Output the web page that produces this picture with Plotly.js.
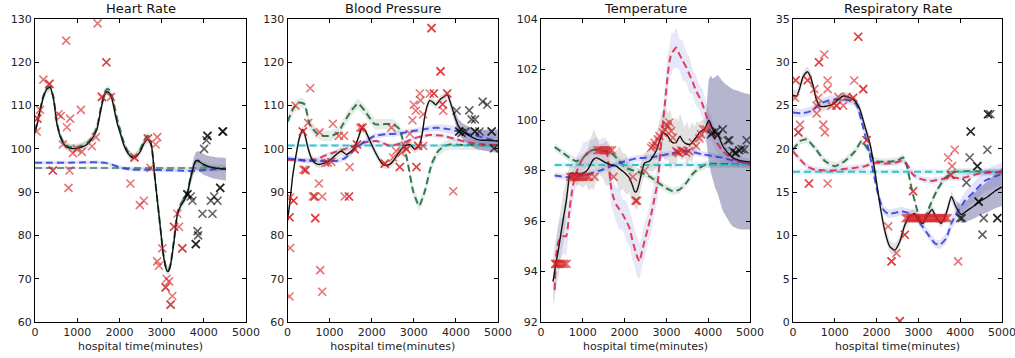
<!DOCTYPE html>
<html><head><meta charset="utf-8">
<script src="https://cdn.plot.ly/plotly-3.0.1.min.js"></script>
<style>html,body{margin:0;padding:0;background:#fff}#chart{width:1015px;height:358px}</style>
</head><body><div id="chart"></div>
<script>
// ---------- DATA ----------
const panelTitles = ['Heart Rate', 'Blood Pressure', 'Temperature', 'Respiratory Rate'];
const xTickVals = [0, 1000, 2000, 3000, 4000, 5000];
const xLabel = 'hospital time(minutes)';
const yRanges = [[60, 130], [60, 130], [92, 104], [0, 35]];
const yTickSteps = [10, 10, 2, 5];
const forecastStart = [3600, 3900, 3960, 3800];

// Heart rate: observations [x, y]
const hrObs = [[40,104],[55,107],[55,107],[119,109],[198,116],[341,115],[341,115],[556,108],[611,107.6],[738,125],[833,107],[754,105],[659,101],[1087,109],[817,95],[421,95],[421,95],[794,91],[897,99],[992,100],[1111,99.3],[1349,100.6],[1444,102.7],[1484,129],[1690,120],[1690,120],[1587,112],[1587,112],[1802,112],[2357,98],[2357,98],[2262,92],[2484,87],[2579,88],[2675,102.4],[2675,102.4],[2897,102.7],[2857,101],[2738,95.6],[3016,77],[2897,74],[2937,73],[3119,70],[3095,68],[3095,68],[3175,69.4],[3214,64],[3214,64],[3254,66],[3294,82],[3294,82],[3373,85],[3413,82],[3492,77],[3492,77]];
const hrFut = [[3611,89.5],[3611,89.5],[3690,89],[3730,88],[3810,78],[3810,78],[3849,81],[3865,80],[3968,85],[4008,100],[4063,102],[4087,103],[4087,103],[4206,85],[4167,88],[4246,89],[4325,88],[4389,91],[4389,91],[4444,104],[4444,104],[4460,104]];
// curves [x, mean, halfwidth]
const hrMean = [[0,103.8,1.2],[60,106,1.0],[119,108.8,0.9],[200,112,0.9],[280,113.8,0.9],[357,114.2,0.9],[440,111.5,0.9],[520,105.7,0.9],[600,102.8,0.9],[675,101.2,0.9],[760,100.4,0.9],[850,100.1,0.9],[992,100.1,0.9],[1110,100.4,0.9],[1230,101,0.9],[1350,102.3,0.9],[1468,104.5,0.9],[1560,109,0.9],[1640,112.3,0.9],[1706,113.2,0.9],[1770,112.8,0.9],[1825,111.5,0.9],[1900,108,0.9],[1960,105.5,0.9],[2024,103.5,0.9],[2100,101,0.9],[2200,99,0.9],[2302,98,0.9],[2360,98,0.9],[2421,98.4,0.9],[2500,99.5,0.9],[2580,101.2,0.9],[2675,102.2,0.9],[2754,101,0.9],[2790,98.5,0.9],[2833,94.1,0.9],[2880,89.8,0.9],[2937,84.8,0.9],[2990,80,0.9],[3040,75.6,0.9],[3100,72.5,0.9],[3135,71.7,0.9],[3175,71.9,0.9],[3214,73.2,0.9],[3294,78.6,1.0],[3373,84.8,1.0],[3452,86.8,1.0],[3530,88,1.0],[3611,89.5,1.1],[3670,92.5,1.3],[3730,94.9,1.6],[3770,96.4,1.8],[3810,97.2,2.0],[3870,97.3,2.2],[3929,96.8,2.3],[4000,96.4,2.4],[4087,96,2.4],[4200,95.7,2.5],[4325,95.5,2.5],[4420,95.4,2.6],[4524,95.3,2.6]];
const hrGreen = [[0,104,0.8],[119,109,0.8],[200,112.3,0.8],[280,114,0.8],[357,114.4,0.8],[440,111.8,0.8],[520,106,0.8],[600,103,0.8],[675,101.5,0.8],[760,100.7,0.8],[850,100.4,0.8],[992,100.4,0.8],[1110,100.7,0.8],[1230,101.3,0.8],[1350,102.6,0.8],[1468,105,0.8],[1560,109.5,0.8],[1640,112.8,0.8],[1706,113.8,0.8],[1770,113.5,0.8],[1825,112.3,0.8],[1900,109,0.8],[1960,106.3,0.8],[2024,104.2,0.8],[2100,101.6,0.8],[2200,99.4,0.8],[2302,98.3,0.8],[2360,98.3,0.8],[2421,98.8,0.8],[2500,100,0.8],[2580,101.8,0.8],[2659,103,0.8],[2710,102.7,0.8],[2754,101,0.8],[2790,98.5,0.8],[2833,94.1,0.8],[2880,89.8,0.8],[2937,84.8,0.8],[2990,80,0.8],[3040,75.8,0.8],[3100,72.8,0.8],[3135,72,0.8],[3175,72.2,0.8],[3214,73.5,0.8],[3294,79,0.8],[3373,85.2,0.8],[3452,87.2,0.8],[3530,88.5,0.8],[3611,90,0.8],[3670,92.7,0.8],[3730,95.2,0.8],[3810,97.1,0.8],[3870,97.1,0.8],[3929,96.6,0.8],[4000,96.2,0.8],[4087,95.9,0.8],[4200,95.7,0.8],[4325,95.6,0.8],[4524,95.6,0.8]];
const hrBlue = [[0,96.8,0.4],[400,96.8,0.4],[800,96.8,0.4],[1200,96.9,0.4],[1500,96.9,0.4],[1700,96.7,0.4],[1900,96.1,0.4],[2100,95.5,0.4],[2300,95.2,0.4],[2600,95.2,0.4],[3000,95.1,0.4],[3400,95.0,0.4],[3700,94.9,0.4],[4000,95.1,0.4],[4300,95.3,0.4],[4524,95.4,0.4]];
const hrFlat = [[0,95.6,0.35],[4524,95.6,0.35]];

// Blood pressure
const bpObs = [[190,110],[540,114],[365,104],[365,104],[63,88.8],[143,88],[143,88],[48,84.2],[48,84.2],[63,77.1],[48,65.9],[429,95.1],[429,95.1],[381,95.2],[492,106],[603,89],[643,89],[643,89],[825,89],[659,84],[659,84],[746,92],[762,103.8],[778,72],[825,67],[905,96.8],[1079,105.8],[1040,97],[1222,103],[1341,103],[1357,89],[1460,89],[1460,89],[1476,95.8],[1595,99.9],[1595,99.9],[1651,101],[1651,101],[1778,104.9],[1778,104.9],[1730,104.9],[2310,96.6],[2310,96.6],[2468,104.9],[2508,98],[2667,95.8],[2667,95.8],[2706,99.1],[2786,100.7],[2825,99.9],[2825,99.9],[2905,103.5],[2968,106.6],[3000,110.2],[3048,108.8],[3103,100.7],[3103,100.7],[3159,111.2],[3143,112.8],[3222,108],[3063,95.8],[3063,95.8],[3421,127.9],[3421,127.9],[3635,117.9],[3635,117.9],[3381,112.8],[3476,112.8],[3476,112.8],[3683,110.3],[3683,110.3],[3698,108.8],[3794,112.8],[3794,112.8],[3937,90.2],[3222,100.7],[2580,99.5],[960,96.8]];
const bpFut = [[4016,108.8],[4079,104],[4079,104],[4135,103.7],[4230,104],[4317,108.9],[4373,106.8],[4452,106.8],[4452,104],[4452,104],[4560,104],[4635,110.9],[4746,110.2],[4849,104],[4849,104],[4905,100.1]];
const bpMean = [[0,83.3,1.5],[60,88,1.3],[120,93.5,1.1],[206,98.7,1.0],[280,102.5,0.9],[365,104.5,0.9],[420,103,0.9],[484,100.3,0.9],[560,98,0.9],[643,96.8,0.9],[762,96.4,0.9],[860,96.7,0.9],[960,97,0.9],[1060,97.8,0.9],[1159,98.7,0.9],[1278,99.5,0.9],[1397,98.7,0.9],[1500,99.3,0.9],[1595,100.3,0.9],[1680,102.5,0.9],[1754,104.5,0.9],[1810,104.6,0.9],[1873,103.7,0.9],[1970,101.6,0.9],[2071,99.5,0.9],[2170,97.7,0.9],[2270,96.4,0.9],[2350,96.2,0.9],[2429,96.4,0.9],[2520,97.3,0.9],[2627,98.9,0.9],[2700,99.9,0.9],[2786,100.7,0.9],[2905,101,0.9],[3024,99.9,0.9],[3090,100.3,0.9],[3143,101,0.9],[3200,103.5,0.9],[3262,107.6,0.9],[3320,110,0.9],[3381,111.2,0.9],[3450,110.8,0.9],[3524,110.2,0.9],[3580,110.8,0.9],[3635,111.5,0.9],[3710,112,0.9],[3794,112.6,0.9],[3860,111,1.0],[3937,108.6,1.2],[4000,106.8,1.4],[4056,105.3,1.6],[4150,104.2,1.8],[4254,103.4,2.0],[4380,102.7,2.2],[4492,102.2,2.3],[4620,102,2.4],[4730,102,2.5],[4850,101.9,2.6],[5000,101.8,2.7]];
const bpGreen = [[0,106.3,1.2],[150,109.5,1.2],[286,110.7,1.2],[405,110.3,1.2],[524,105.7,1.2],[683,103.7,1.2],[841,103,1.2],[1040,103,1.2],[1198,103.7,1.2],[1317,105.7,1.2],[1516,108.8,1.2],[1675,110.5,1.2],[1833,108.8,1.2],[2071,105.7,1.2],[2270,105.7,1.2],[2508,105.7,1.2],[2667,104.5,1.2],[2762,101,1.2],[2865,96.4,1.2],[2984,90.2,1.2],[3127,86.8,1.2],[3262,90.2,1.2],[3421,96.4,1.2],[3579,99.5,1.2],[3738,100.7,1.2],[3857,101,1.2],[4200,100.9,1.2],[5000,100.8,1.2]];
const bpBlue = [[0,97.8,0.6],[206,97.6,0.6],[444,97.2,0.6],[683,97.2,0.6],[921,97.2,0.6],[1159,97.2,0.6],[1357,97.8,0.6],[1556,99.5,0.6],[1794,101.4,0.6],[2071,103,0.6],[2349,103.4,0.6],[2627,103.5,0.6],[2905,104,0.6],[3222,104.5,0.7],[3540,104.9,0.8],[3857,104.5,1.0],[4175,103.7,1.3],[4492,103,1.6],[4810,102.2,1.9],[5000,101.8,2.0]];
const bpRed = [[0,97.5,0.5],[400,97.4,0.5],[683,97.6,0.5],[900,98.5,0.5],[1079,99.1,0.5],[1300,99.8,0.5],[1476,100.3,0.5],[1794,101.4,0.5],[2111,101.8,0.5],[2300,101.2,0.5],[2429,100.7,0.5],[2600,101,0.5],[2746,101.4,0.5],[3063,102.6,0.5],[3381,103.2,0.5],[3698,103,0.5],[4016,102.2,0.5],[4333,101.4,0.5],[4651,101,0.5],[5000,100.8,0.5]];
const bpCyan = [[0,100.8,0.3],[5000,100.8,0.3]];

// Temperature
const tempObs = [[340,94.3],[350,94.3],[380,94.3],[420,94.3],[470,94.3],[520,94.3],[560,94.3],[610,94.3],[700,97.75],[740,97.75],[780,97.75],[820,97.75],[860,97.75],[900,97.75],[950,97.75],[1000,97.75],[1050,97.75],[1100,97.75],[1150,97.75],[1282,97.75],[1736,97.75],[2197,97.75],[1350,98.8],[1400,98.8],[1450,98.8],[1500,98.8],[1550,98.8],[1600,98.8],[1650,98.8],[1700,98.8],[2260,96.8],[2277,96.8],[2300,96.8],[2476,98.0],[2635,98.9],[2675,98.97],[2715,99.1],[2755,98.97],[2795,99.23],[2834,99.36],[2914,99.5],[2954,99.63],[2994,99.83],[3033,99.76],[3073,99.9],[3113,99.56],[3153,99.3],[3232,98.77],[3264,98.74],[3296,98.7],[3352,98.8],[3408,98.77],[3471,98.7],[3535,98.77],[3631,99.1],[3710,98.97],[3790,99.27],[3830,99.43],[3885,99.63],[3949,99.63]];
const tempFut = [[4068,99.43],[4100,99.5],[4188,99.56],[4230,99.4],[4347,99.63],[4467,99.19],[4506,99.2],[4586,98.77],[4640,98.7],[4666,98.7],[4745,98.8],[4800,98.85],[4865,98.83],[4920,99.2]];
const tempMean = [[287,93.6,1.0],[366,94.4,1.0],[430,95.0,1.1],[486,95.6,0.9],[545,96.2,1.0],[605,96.8,0.8],[650,97.4,0.6],[685,97.84,0.4],[745,97.9,0.35],[804,97.87,0.3],[864,97.9,0.5],[924,97.84,0.4],[1003,97.9,0.6],[1083,97.97,0.5],[1143,98.1,0.9],[1202,98.3,1.0],[1262,98.45,1.2],[1322,98.5,0.9],[1401,98.45,0.6],[1481,98.37,0.7],[1561,98.3,0.9],[1640,98.24,0.8],[1720,98.2,0.5],[1799,98.17,0.6],[1879,98.07,0.9],[1959,97.97,0.7],[2038,97.85,0.8],[2118,97.7,0.6],[2180,97.45,0.7],[2237,97.18,0.6],[2277,97.15,0.7],[2317,97.3,0.8],[2357,97.55,0.5],[2396,97.84,0.5],[2476,98.3,0.4],[2596,98.37,0.4],[2675,98.55,0.6],[2755,98.77,0.7],[2834,99.15,0.8],[2914,99.5,0.9],[2973,99.45,1.1],[3033,99.36,0.9],[3093,99.2,1.2],[3153,99.1,0.8],[3232,99.1,1.0],[3280,99.25,0.7],[3328,99.36,0.9],[3380,99.2,0.8],[3432,99.1,0.6],[3490,99.05,0.9],[3551,99.03,0.6],[3610,99.1,0.8],[3670,99.23,0.5],[3730,99.35,0.6],[3790,99.5,0.4],[3850,99.58,0.4],[3909,99.63,0.4],[3960,99.8,0.7],[4013,99.99,1.6],[4060,99.85,1.9],[4108,99.63,2.0],[4168,99.5,2.2],[4227,99.43,2.35],[4290,99.2,2.45],[4347,98.97,2.55],[4410,98.83,2.6],[4467,98.7,2.65],[4530,98.6,2.7],[4586,98.5,2.72],[4665,98.45,2.73],[4745,98.4,2.73],[4870,98.36,2.7],[5000,98.34,2.68]];
const tempGreen = [[326,98.93,0.15],[525,98.7,0.15],[685,98.5,0.15],[844,98.37,0.15],[1003,98.5,0.15],[1162,98.77,0.15],[1322,98.83,0.15],[1481,98.77,0.15],[1600,98.77,0.15],[1720,98.64,0.15],[1879,98.37,0.15],[2038,98.1,0.15],[2277,97.97,0.15],[2516,97.84,0.15],[2755,97.58,0.15],[2994,97.3,0.15],[3153,97.18,0.15],[3312,97.24,0.15],[3471,97.5,0.15],[3631,97.87,0.15],[3790,98.1,0.15],[3949,98.24,0.15],[4188,98.27,0.15],[4666,98.24,0.15],[5000,98.24,0.15]];
const tempBlue = [[326,97.8,0.12],[685,97.73,0.12],[1083,97.84,0.12],[1481,98.04,0.12],[1879,98.3,0.12],[2277,98.48,0.12],[2675,98.53,0.12],[3073,98.66,0.12],[3471,98.77,0.12],[3869,98.64,0.12],[4268,98.53,0.12],[4666,98.37,0.12],[5000,98.27,0.12]];
const tempRed = [[326,93.27,0.6],[366,94.66,0.6],[420,95.2,0.7],[486,95.35,0.8],[545,95.4,0.7],[605,95.4,0.8],[685,96.5,0.6],[745,97.2,0.7],[804,97.7,0.5],[864,98.0,0.6],[924,98.24,0.5],[1003,98.5,0.6],[1083,98.64,0.5],[1162,98.75,0.5],[1242,98.8,0.4],[1322,98.82,0.5],[1401,98.83,0.4],[1481,98.8,0.5],[1561,98.77,0.5],[1620,98.2,0.6],[1680,97.3,0.7],[1740,96.9,0.6],[1799,96.65,0.7],[1879,96.45,0.8],[1959,96.25,0.6],[2038,96.0,0.8],[2118,95.72,0.7],[2177,95.3,0.8],[2237,94.93,0.7],[2297,94.6,0.8],[2357,94.4,0.7],[2416,94.8,0.6],[2476,95.2,0.7],[2556,95.7,0.6],[2635,96.25,0.7],[2715,96.9,0.6],[2795,97.58,0.7],[2854,98.7,0.6],[2914,99.83,0.7],[2973,100.8,0.6],[3033,101.8,0.8],[3073,102.3,0.6],[3113,102.6,0.8],[3173,102.75,0.7],[3232,102.87,0.8],[3312,102.6,0.6],[3392,102.34,0.8],[3471,102.1,0.6],[3551,101.8,0.7],[3631,101.5,0.5],[3710,101.15,0.6],[3790,100.9,0.5],[3869,100.6,0.6],[3949,100.2,0.5],[4029,99.83,0.5],[4108,99.5,0.4],[4188,99.17,0.4],[4268,98.95,0.35],[4347,98.77,0.3],[4506,98.55,0.3],[4666,98.4,0.25],[4825,98.32,0.2],[5000,98.27,0.2]];
const tempCyan = [[326,98.22,0.1],[5000,98.22,0.1]];

// Respiratory rate
const rrObs = [[64,27.93],[64,27.93],[350,27.93],[350,27.93],[48,25.9],[167,22.8],[127,21.9],[127,21.9],[510,26.9],[605,25.9],[565,25],[565,24.1],[621,30],[621,30],[748,30.9],[828,27.9],[828,26.9],[725,22.8],[764,21.9],[382,16],[382,16],[828,16],[924,25],[1043,25],[1043,25],[1202,25],[1083,26],[1282,26],[1465,27.9],[1441,25.9],[1441,25.9],[1561,32.95],[1561,32.95],[1680,26.9],[1680,26.9],[1760,21],[1760,21],[2277,11.05],[2357,7],[2357,7],[2476,7.95],[2556,0.1],[2556,0.1],[2675,10.08],[2675,10.08],[2874,15.1],[2874,15.1],[2700,12],[2740,12],[2780,12],[2820,12],[2860,12],[2900,12],[2940,12],[2980,12],[3020,12],[3060,12],[3100,12],[3140,12],[3180,12],[3220,12],[3260,12],[3300,12],[3340,12],[3380,12],[3420,12],[3460,12],[3500,12],[3540,12],[3580,12],[3620,12],[3660,12],[3700,12],[3710,19],[3869,19.9],[3806,18],[3774,17],[3774,17],[3949,7]];
const rrFut = [[4000,12],[4040,12],[4148,16.1],[4252,22],[4252,22],[4227,19],[4411,18],[4411,18],[4650,19.9],[4563,12],[4889,12],[4889,12],[4440,13.9],[4440,13.9],[4532,10.1],[4666,24],[4666,24],[4720,24]];
const rrMean = [[0,26.2,0.7],[88,26.1,0.6],[167,27.1,0.6],[230,28.2,0.6],[293,28.7,0.6],[350,28.9,0.6],[420,28.3,0.6],[486,27.2,0.6],[560,25.7,0.6],[656,24.9,0.6],[764,24.9,0.5],[930,25.1,0.5],[1083,25.7,0.5],[1200,26.1,0.5],[1322,26.0,0.5],[1440,25.7,0.5],[1520,25.3,0.5],[1606,24.5,0.6],[1720,22.6,0.6],[1845,20.5,0.6],[1959,17.4,0.7],[2078,13.6,0.7],[2197,10.5,0.7],[2317,8.7,0.7],[2436,8.3,0.7],[2556,9.3,0.6],[2675,11.2,0.6],[2795,12.2,0.6],[2914,12.5,0.6],[3033,11.6,0.5],[3113,11.4,0.5],[3232,12.4,0.5],[3328,13.0,0.5],[3432,12.0,0.5],[3551,11.4,0.5],[3670,12.6,0.5],[3790,14.5,0.6],[3909,13.2,0.8],[4029,12.4,1.0],[4148,12.8,1.2],[4268,13.2,1.4],[4467,13.9,1.6],[4666,14.5,1.8],[4825,15.1,2.0],[5000,15.6,2.2]];
const rrBlue = [[0,24.2,0.5],[207,24.1,0.5],[446,24.4,0.5],[685,25.3,0.5],[924,25.7,0.5],[1162,25.7,0.5],[1401,25.6,0.5],[1521,25.1,0.5],[1640,23.2,0.5],[1799,20.1,0.5],[1919,17.4,0.5],[2038,14.7,0.5],[2158,13,0.5],[2277,12.5,0.5],[2436,12.6,0.5],[2596,12.8,0.5],[2755,12.6,0.5],[2914,12.4,0.5],[3073,11.2,0.5],[3232,10.1,0.5],[3392,9.1,0.5],[3511,8.9,0.5],[3670,9.7,0.6],[3790,11.4,0.7],[3949,12.8,0.9],[4108,14,1.0],[4347,15.1,1.1],[4586,16.3,1.2],[4825,16.8,1.3],[5000,17.1,1.3]];
const rrGreen = [[0,19.9,0.4],[167,20.9,0.4],[326,21.1,0.4],[525,20.1,0.4],[764,18.6,0.4],[1003,18,0.4],[1242,18.6,0.4],[1481,19.7,0.4],[1640,20.9,0.4],[1799,19.9,0.4],[1959,18.6,0.4],[2197,18.5,0.4],[2476,18.6,0.4],[2635,19,0.4],[2715,18.2,0.4],[2834,15.5,0.4],[2954,13.2,0.4],[3057,11.6,0.4],[3153,12,0.4],[3272,13.4,0.4],[3432,15.1,0.4],[3631,16.6,0.4],[3790,17.2,0.4],[3949,17.4,0.4],[4347,17.4,0.4],[5000,17.3,0.4]];
const rrRed = [[0,19.7,0.35],[127,19,0.35],[326,18,0.35],[525,17.6,0.35],[764,17.5,0.35],[1003,17.5,0.35],[1242,17.7,0.35],[1481,17.8,0.35],[1720,18,0.35],[1959,18.4,0.35],[2197,18.3,0.35],[2436,18.4,0.35],[2635,18.6,0.35],[2755,18,0.35],[2874,17,0.35],[3073,16.5,0.35],[3312,16.3,0.35],[3551,16.5,0.35],[3790,16.7,0.35],[3989,16.6,0.35],[4188,16.8,0.35],[4506,17.2,0.35],[4825,17.3,0.35],[5000,17.4,0.35]];
const rrCyan = [[0,17.35,0.3],[5000,17.35,0.3]];

// ---------- STYLE ----------
const C = {
  obs: 'rgba(214,30,36,0.62)', fut: 'rgba(0,0,0,0.62)',
  black: '#111111', blue: 'rgba(40,60,220,0.85)', green: 'rgba(30,110,60,0.9)',
  cyan: 'rgba(40,190,200,0.9)', red: 'rgba(225,30,60,0.85)', flat: 'rgba(95,140,125,0.9)',
  bandGray: 'rgba(120,120,120,0.22)', bandGreen: 'rgba(150,175,165,0.25)',
  bandBlue: 'rgba(110,110,230,0.2)', bandCyan: 'rgba(120,200,220,0.22)',
  bandRed: 'rgba(120,120,230,0.18)', bandFc: 'rgba(70,70,160,0.28)'
};
const DASH = '7px,4px';
const traces = [];

function axn(i){ return i === 0 ? '' : String(i+1); }
function band(i, rows, color){
  const xs = rows.map(r => r[0]);
  const up = rows.map(r => r[1] + r[2]);
  const lo = rows.map(r => r[1] - r[2]);
  traces.push({x: xs.concat(xs.slice().reverse()), y: up.concat(lo.reverse()),
    mode: 'lines', fill: 'toself', fillcolor: color, line: {width: 0},
    hoverinfo: 'skip', showlegend: false, xaxis: 'x'+axn(i), yaxis: 'y'+axn(i)});
}
function curve(i, rows, color, dash, width){
  traces.push({x: rows.map(r => r[0]), y: rows.map(r => r[1]), mode: 'lines',
    line: {color: color, width: width, dash: dash, shape: 'spline', smoothing: 0.5},
    hoverinfo: 'skip', showlegend: false, xaxis: 'x'+axn(i), yaxis: 'y'+axn(i)});
}
function marks(i, pts, color){
  traces.push({x: pts.map(p => p[0]), y: pts.map(p => p[1]), mode: 'markers',
    marker: {symbol: 'x-thin', size: 8, color: color, line: {width: 1.6, color: color}},
    hoverinfo: 'skip', showlegend: false, xaxis: 'x'+axn(i), yaxis: 'y'+axn(i)});
}

const panels = [
  {mean: hrMean, lines: [[hrGreen, C.green, C.bandGreen], [hrFlat, C.flat, C.bandGreen], [hrBlue, C.blue, C.bandBlue]], obs: hrObs, fut: hrFut},
  {mean: bpMean, lines: [[bpGreen, C.green, C.bandGreen], [bpCyan, C.cyan, C.bandCyan], [bpRed, C.red, C.bandRed], [bpBlue, C.blue, C.bandBlue]], obs: bpObs, fut: bpFut},
  {mean: tempMean, lines: [[tempGreen, C.green, C.bandGreen], [tempCyan, C.cyan, C.bandCyan], [tempBlue, C.blue, C.bandBlue], [tempRed, C.red, C.bandRed]], obs: tempObs, fut: tempFut},
  {mean: rrMean, lines: [[rrGreen, C.green, C.bandGreen], [rrCyan, C.cyan, C.bandCyan], [rrRed, C.red, C.bandRed], [rrBlue, C.blue, C.bandBlue]], obs: rrObs, fut: rrFut}
];

panels.forEach((p, i) => {
  p.lines.forEach(l => band(i, l[0], l[2]));
  band(i, p.mean, C.bandGray);
  band(i, p.mean.filter(r => r[0] >= forecastStart[i]), C.bandFc);
  p.lines.forEach(l => curve(i, l[0], l[1], DASH, 2));
  curve(i, p.mean, C.black, 'solid', 1.4);
  marks(i, p.obs, C.obs);
  marks(i, p.fut, C.fut);
});

// ---------- LAYOUT ----------
const W = 1015;
const plotPx = [[35, 246], [287.5, 498], [541, 750], [793, 1002]];
const layout = {
  width: 1015, height: 358, paper_bgcolor: '#fff', plot_bgcolor: '#fff',
  margin: {l: 0, r: 0, t: 19, b: 36}, showlegend: false,
  font: {family: 'DejaVu Sans, sans-serif', size: 11, color: '#222'},
  annotations: []
};
plotPx.forEach((px, i) => {
  const dom = [px[0]/W, px[1]/W];
  const ticks = [];
  for (let v = yRanges[i][0]; v <= yRanges[i][1] + 1e-9; v += yTickSteps[i]) ticks.push(v);
  layout['xaxis'+axn(i)] = {domain: dom, range: [0, 5000], anchor: 'y'+axn(i),
    tickvals: xTickVals, ticks: 'inside', ticklen: 4, tickcolor: '#000', mirror: 'ticks',
    showline: true, linecolor: '#000', linewidth: 1, showgrid: false, zeroline: false,
    ticklabeloverflow: 'allow',
    tickfont: {size: 11, color: '#222'},
    title: {text: xLabel, font: {size: 11, color: '#222'}, standoff: 4}};
  layout['yaxis'+axn(i)] = {domain: [0, 1], range: yRanges[i], anchor: 'x'+axn(i),
    tickvals: ticks, ticks: 'inside', ticklen: 4, tickcolor: '#000', mirror: 'ticks',
    showline: true, linecolor: '#000', linewidth: 1, showgrid: false, zeroline: false,
    ticklabeloverflow: 'allow',
    tickfont: {size: 11, color: '#222'}};
  layout.annotations.push({text: panelTitles[i], xref: 'paper', yref: 'paper',
    x: (dom[0] + dom[1]) / 2, y: 1, yshift: 1, xanchor: 'center', yanchor: 'bottom',
    showarrow: false, font: {size: 13, color: '#111'}});
});

Plotly.newPlot('chart', traces, layout, {staticPlot: true, displayModeBar: false});
</script>
</body></html>
